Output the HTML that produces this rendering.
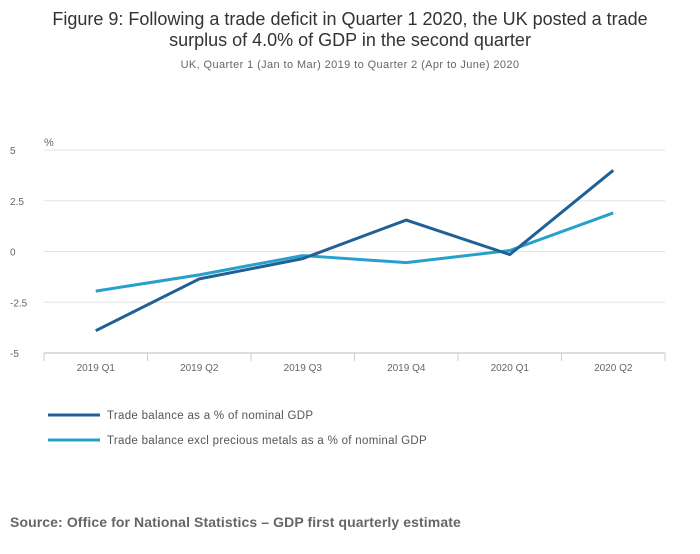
<!DOCTYPE html>
<html><head><meta charset="utf-8"><style>
body{margin:0;background:#fff;font-family:"Liberation Sans",sans-serif;}
svg text{font-family:"Liberation Sans",sans-serif;}
</style></head><body>
<svg width="700" height="549" viewBox="0 0 700 549">
<text x="350" y="25" text-anchor="middle" font-size="18" fill="#333">Figure 9: Following a trade deficit in Quarter 1 2020, the UK posted a trade</text>
<text x="350" y="46" text-anchor="middle" font-size="18" fill="#333">surplus of 4.0% of GDP in the second quarter</text>
<text x="350" y="68" text-anchor="middle" font-size="11" letter-spacing="0.4" fill="#666">UK, Quarter 1 (Jan to Mar) 2019 to Quarter 2 (Apr to June) 2020</text>
<text x="44" y="146" font-size="11" fill="#666">%</text>
<g id="grid"></g><g id="xaxis"></g><g id="series"></g>
<g>
<line x1="48" y1="415" x2="100" y2="415" stroke="#206095" stroke-width="3"/>
<text x="107" y="419" font-size="11.5" letter-spacing="0.3" fill="#555">Trade balance as a % of nominal GDP</text>
<line x1="48" y1="440" x2="100" y2="440" stroke="#27a0cc" stroke-width="3"/>
<text x="107" y="444" font-size="11.5" letter-spacing="0.3" fill="#555">Trade balance excl precious metals as a % of nominal GDP</text>
</g>
<text x="10" y="527" font-size="14" font-weight="bold" letter-spacing="0.1" fill="#666">Source: Office for National Statistics – GDP first quarterly estimate</text>
</svg>
<script>
const categories=["2019 Q1","2019 Q2","2019 Q3","2019 Q4","2020 Q1","2020 Q2"];
const tradeBalance=[-3.9,-1.35,-0.35,1.55,-0.15,4.0];
const exclPrecious=[-1.95,-1.15,-0.2,-0.55,0.05,1.9];
const yTicks=[5,2.5,0,-2.5,-5];
const yTickLabels=["5","2.5","0","-2.5","-5"];
const NS="http://www.w3.org/2000/svg";
const L=44,R=665,T=150,B=353;
const x=i=>L+(R-L)/categories.length*(i+0.5);
const y=v=>T+(5-v)/10*(B-T);
function mk(p,tag,a){const e=document.createElementNS(NS,tag);for(const k in a)e.setAttribute(k,a[k]);p.appendChild(e);return e;}
const g=document.getElementById('grid');
yTicks.forEach((v,i)=>{
 const ln=mk(g,'line',{x1:L,x2:R,y1:y(v),y2:y(v),stroke:i==4?'#bbb':'#e3e3e3','stroke-width':1});
 
 
 const t=mk(g,'text',{x:10,y:y(v)+4,'font-size':10,fill:'#666'});t.textContent=yTickLabels[i];
 
 
});
const xa=document.getElementById('xaxis');
for(let i=0;i<=categories.length;i++){
 const xx=L+(R-L)/categories.length*i;
 const tk=mk(xa,'line',{x1:xx,x2:xx,y1:B,y2:B+8,stroke:'#ccc'});
 
 
}
categories.forEach((c,i)=>{
 const t=mk(xa,'text',{x:x(i),y:B+18,'font-size':10,fill:'#666','text-anchor':'middle'});t.textContent=c;
 
 
});
const s=document.getElementById('series');
[[exclPrecious,'#27a0cc','series-excl-precious-metals'],[tradeBalance,'#206095','series-trade-balance']].forEach(([d,c,n])=>{
 const p=mk(s,'polyline',{points:d.map((v,i)=>x(i)+','+y(v)).join(' '),fill:'none',stroke:c,'stroke-width':3,'stroke-linejoin':'round'});
 
 
});
</script>
</body></html>
